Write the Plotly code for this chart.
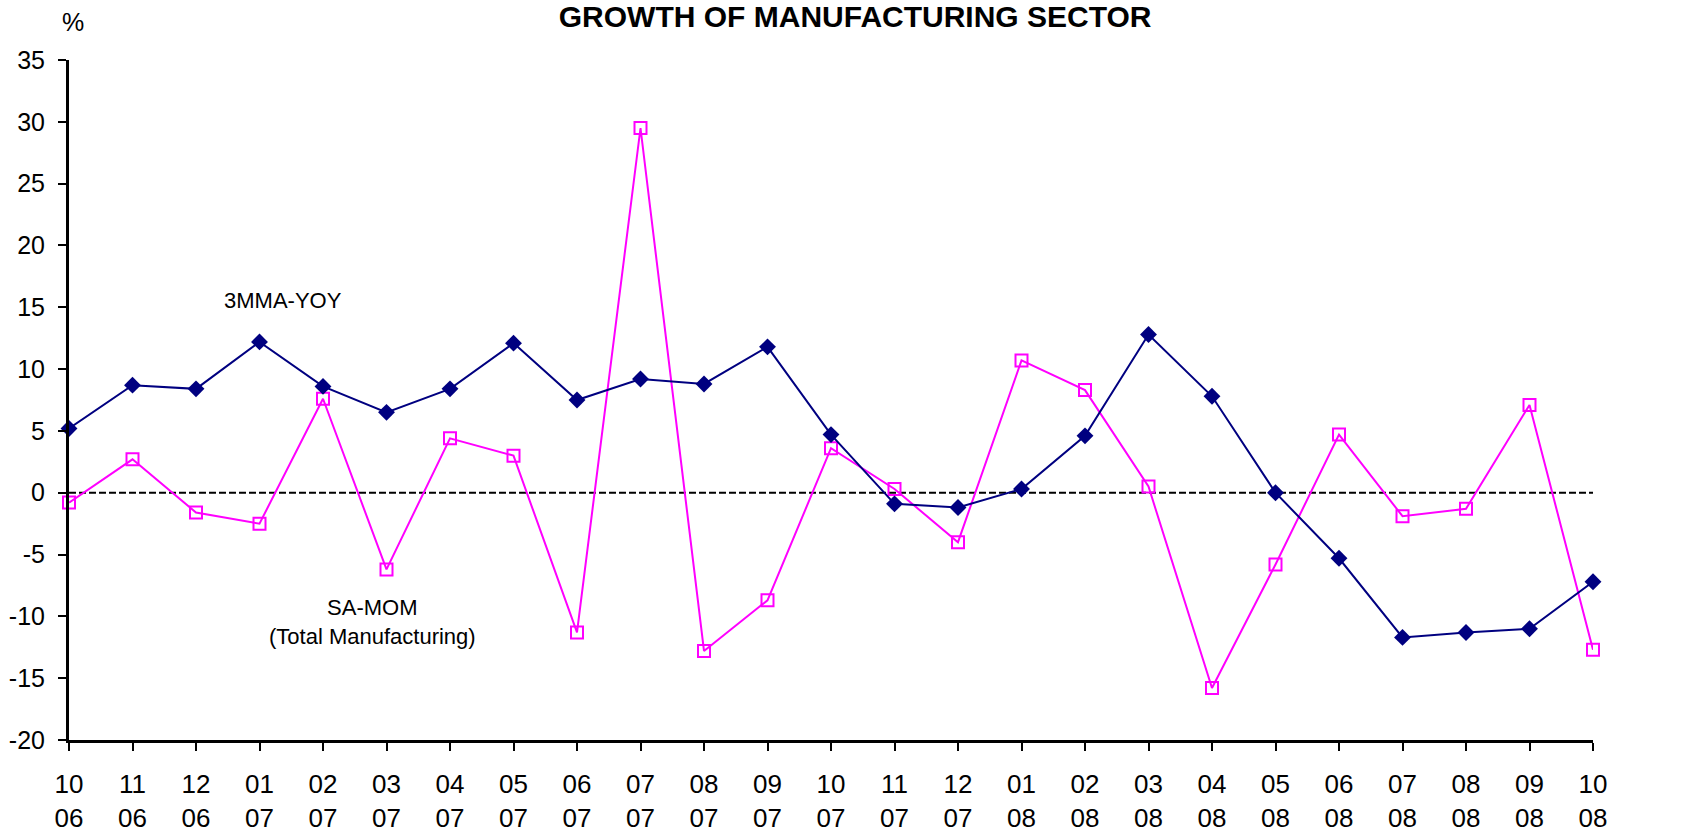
import plotly.graph_objects as go

months = ["10", "11", "12", "01", "02", "03", "04", "05", "06", "07", "08", "09",
          "10", "11", "12", "01", "02", "03", "04", "05", "06", "07", "08", "09", "10"]
years = ["06", "06", "06", "07", "07", "07", "07", "07", "07", "07", "07", "07",
         "07", "07", "07", "08", "08", "08", "08", "08", "08", "08", "08", "08", "08"]

yoy_3mma = [5.2, 8.7, 8.4, 12.2, 8.6, 6.5, 8.4, 12.1, 7.5, 9.2, 8.8, 11.8,
            4.7, -0.9, -1.2, 0.3, 4.6, 12.8, 7.8, 0.0, -5.3, -11.7, -11.3, -11.0, -7.2]
sa_mom = [-0.8, 2.7, -1.6, -2.5, 7.6, -6.2, 4.4, 3.0, -11.3, 29.5, -12.8, -8.7,
          3.6, 0.3, -4.0, 10.7, 8.3, 0.5, -15.8, -5.8, 4.7, -1.9, -1.3, 7.1, -12.7]

y_ticks = [35, 30, 25, 20, 15, 10, 5, 0, -5, -10, -15, -20]
y_tick_text = ["35", "30", "25", "20", "15", "10", "5", "0", "-5", "-10", "-15", "-20"]

x = list(range(len(months)))
tick_text = [f"{m}<br>{y}" for m, y in zip(months, years)]

FONT = "Liberation Sans, Arial, sans-serif"

fig = go.Figure()
fig.add_trace(go.Scatter(
    x=x, y=sa_mom, mode="lines+markers", name="SA-MOM",
    line=dict(color="#FF00FF", width=2),
    marker=dict(symbol="square-open", size=12, color="#FF00FF", line=dict(width=2, color="#FF00FF")),
    cliponaxis=False,
))
fig.add_trace(go.Scatter(
    x=x, y=yoy_3mma, mode="lines+markers", name="3MMA-YOY",
    line=dict(color="#000080", width=2),
    marker=dict(symbol="diamond", size=13, color="#000080"),
    cliponaxis=False,
))

fig.add_shape(type="line", xref="x", yref="y", x0=0, x1=len(months) - 1, y0=0, y1=0,
              line=dict(color="black", width=2, dash="7px,3px"), layer="below")

fig.update_layout(
    width=1690, height=836,
    margin=dict(l=69, r=97, t=60, b=96),
    paper_bgcolor="white", plot_bgcolor="white",
    showlegend=False,
    font=dict(family=FONT, color="black", size=25),
    title=dict(text="<b>GROWTH OF MANUFACTURING SECTOR</b>", x=0.506, xanchor="center",
               y=0.9803, yanchor="middle", yref="container",
               font=dict(size=30, family=FONT, color="black")),
    xaxis=dict(range=[0, len(months) - 1], tickvals=x, ticktext=tick_text, automargin=False,
               showgrid=False, zeroline=False, showline=True, linecolor="black", linewidth=3,
               ticks="outside", ticklen=8, tickwidth=2, tickcolor="black",
               ticklabelstandoff=11, tickfont=dict(size=26, family=FONT)),
    yaxis=dict(range=[-20, 35], tickvals=y_ticks, ticktext=y_tick_text, automargin=False,
               showgrid=False, zeroline=False,
               showline=True, linecolor="black", linewidth=3,
               ticks="outside", ticklen=8, tickwidth=2, tickcolor="black",
               ticklabelstandoff=8, tickfont=dict(size=25, family=FONT)),
)

fig.add_annotation(text="%", xref="paper", yref="paper", x=(73 - 69) / 1524, y=1 + (60 - 22) / 680,
                   showarrow=False, xanchor="center", yanchor="middle", font=dict(size=25, family=FONT))
fig.add_annotation(text="3MMA-YOY", xref="paper", yref="paper", x=(283 - 69) / 1524, y=(740 - 300) / 680,
                   showarrow=False, xanchor="center", yanchor="middle", font=dict(size=22, family=FONT))
fig.add_annotation(text="SA-MOM<br>(Total Manufacturing)", xref="paper", yref="paper",
                   x=(372 - 69) / 1524, y=(740 - 622) / 680,
                   showarrow=False, xanchor="center", yanchor="middle", font=dict(size=22, family=FONT))

fig.write_html("out.html", config={"displayModeBar": False},
               post_script="document.body.style.margin='0px';")
